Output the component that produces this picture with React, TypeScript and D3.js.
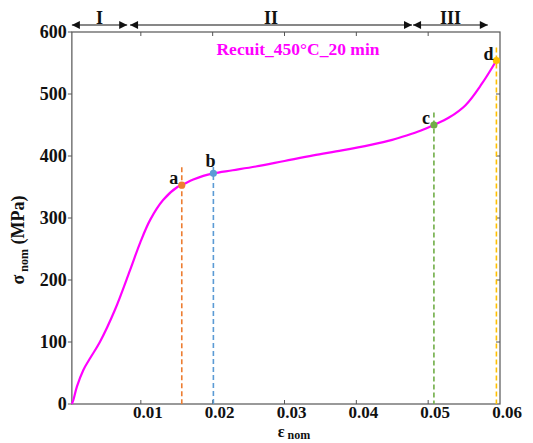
import React from "react";
import * as d3 from "d3";

const strain = [0.0004, 0.0006, 0.0011, 0.002, 0.003, 0.0043, 0.0064, 0.0085, 0.0099, 0.0113, 0.0131, 0.0151, 0.0157, 0.0173, 0.0187, 0.0201, 0.0228, 0.026, 0.03, 0.034, 0.038, 0.042, 0.045, 0.047, 0.049, 0.0508, 0.0529, 0.0552, 0.0575, 0.0595];
const stress = [0, 6, 28, 55, 75, 100, 152, 216, 260, 297, 329, 350, 353, 362, 368, 372, 377, 383, 392, 401, 409, 418, 426, 433, 441, 450, 462, 482, 517, 554];

const pointLabels = ["a", "b", "c", "d"];
const pointStrain = [0.0157, 0.0201, 0.0508, 0.0595];
const pointStress = [353, 372, 450, 554];
const pointColors = ["#ED7D31", "#5B9BD5", "#70AD47", "#FFC000"];
const dashTop = [382, 395, 470, 575];

const xTicks = [0.01, 0.02, 0.03, 0.04, 0.05, 0.06];
const xTickLabels = ["0.01", "0.02", "0.03", "0.04", "0.05", "0.06"];
const yTicks = [0, 100, 200, 300, 400, 500, 600];

const regionNames = ["I", "II", "III"];
const regionStart = [0.0004, 0.0085, 0.0479];
const regionEnd = [0.0081, 0.04775, 0.0583];

const title = "Recuit_450°C_20 min";

export default function App() {
  const W = 533, H = 443;
  const x = d3.scaleLinear().domain([0, 0.06]).range([69, 500]);
  const y = d3.scaleLinear().domain([0, 600]).range([404, 32]);
  const left = x(0.0004), right = x(0.06), top = y(600), bottom = y(0);
  const line = d3.line<number>().x((_, i) => x(strain[i])).y((_, i) => y(stress[i])).curve(d3.curveCatmullRom.alpha(0.5));
  const font = "'Liberation Serif', 'Times New Roman', Times, serif";
  const axisColor = "#555";
  const arrowY = 25;
  return (
    <svg width={W} height={H} style={{ position: "absolute", left: 0, top: 0, background: "#fff", fontFamily: font }}>
      <defs>
        <marker id="ah" viewBox="0 0 10 10" refX="10" refY="5" markerWidth="9" markerHeight="8" markerUnits="userSpaceOnUse" orient="auto-start-reverse">
          <path d="M0,0 L10,5 L0,10 z" fill="#111" />
        </marker>
      </defs>
      <rect x={left} y={top} width={right - left} height={bottom - top} fill="none" stroke={axisColor} strokeWidth={1.2} />
      {xTicks.slice(0, 5).map((t) => (
        <g key={"xt" + t}>
          <line x1={x(t)} x2={x(t)} y1={bottom} y2={bottom - 4} stroke={axisColor} />
          <line x1={x(t)} x2={x(t)} y1={top} y2={top + 4} stroke={axisColor} />
        </g>
      ))}
      {xTicks.map((t, i) => (
        <text key={"xl" + t} x={x(t) + 7} y={bottom + 14} textAnchor="middle" fontSize={17} fontWeight="bold" fill="#111" style={{ fontFamily: font }}>{xTickLabels[i]}</text>
      ))}
      {yTicks.map((t) => (
        <g key={"yt" + t}>
          <line x1={left} x2={left - 4} y1={y(t)} y2={y(t)} stroke={axisColor} />
          {t > 0 && t < 600 && <line x1={right} x2={right - 4} y1={y(t)} y2={y(t)} stroke={axisColor} />}
          <text x={left - 5} y={y(t) + 6} textAnchor="end" fontSize={18} fontWeight="bold" fill="#111" style={{ fontFamily: font }}>{t}</text>
        </g>
      ))}
      <text transform={`translate(24, 240) rotate(-90)`} textAnchor="middle" fontSize={18} fontWeight="bold" fill="#111" style={{ fontFamily: font }}>
        σ<tspan fontSize={12} dy={4}> nom</tspan><tspan dy={-4}> (MPa)</tspan>
      </text>
      <text x={294} y={437} textAnchor="middle" fontSize={16} fontWeight="bold" fill="#111" style={{ fontFamily: font }}>
        ε<tspan fontSize={12} dy={2}> nom</tspan>
      </text>
      {regionNames.map((r, i) => (
        <g key={r}>
          <line x1={x(regionStart[i])} x2={x(regionEnd[i])} y1={arrowY} y2={arrowY} stroke="#111" strokeWidth={1.2} markerStart="url(#ah)" markerEnd="url(#ah)" />
          <text x={(x(regionStart[i]) + x(regionEnd[i])) / 2} y={arrowY - 1} textAnchor="middle" fontSize={18} fontWeight="bold" fill="#111" style={{ fontFamily: font }}>{r}</text>
        </g>
      ))}
      <text x={298} y={55} textAnchor="middle" fontSize={17.5} fontWeight="bold" fill="#FF00FF" style={{ fontFamily: font }}>{title}</text>
      {pointLabels.map((p, i) => (
        <line key={"dl" + p} x1={x(pointStrain[i])} x2={x(pointStrain[i])} y1={y(dashTop[i])} y2={bottom} stroke={pointColors[i]} strokeWidth={1.6} strokeDasharray="5,3" />
      ))}
      <path d={line(stress) || ""} fill="none" stroke="#FF00FF" strokeWidth={2.2} />
      {pointLabels.map((p, i) => (
        <g key={"pt" + p}>
          <circle cx={x(pointStrain[i])} cy={y(pointStress[i])} r={3.6} fill={pointColors[i]} />
          <text x={x(pointStrain[i]) - (i === 1 ? 3 : 8)} y={y(pointStress[i]) - (i === 1 ? 6 : 1)} textAnchor="middle" fontSize={18} fontWeight="bold" fill="#111" style={{ fontFamily: font }}>{p}</text>
        </g>
      ))}
    </svg>
  );
}
